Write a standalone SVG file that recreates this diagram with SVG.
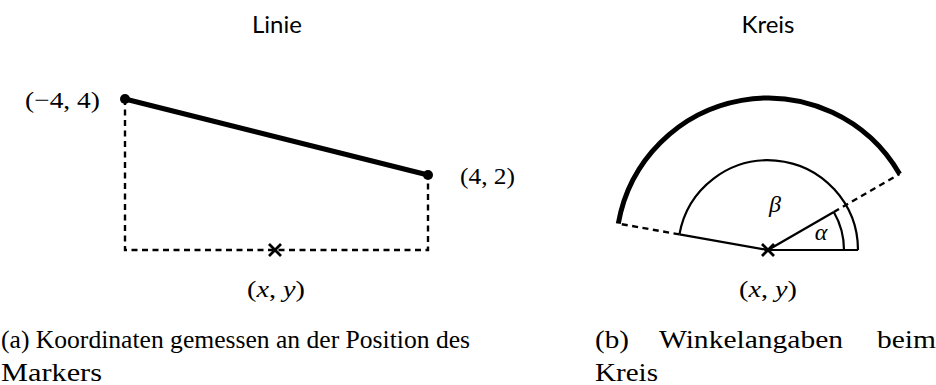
<svg xmlns="http://www.w3.org/2000/svg" width="936" height="385" viewBox="0 0 936 385">
<style>
.title{font-family:Lato,"Open Sans",sans-serif;font-size:24px;fill:#000}
.math{font-family:"Liberation Serif","DejaVu Serif",serif;font-size:24px;fill:#000}
.mi{font-family:"Liberation Serif","DejaVu Serif",serif;font-style:italic}
.cap{font-family:"Liberation Serif","DejaVu Serif",serif;font-size:25px;fill:#000}
.thick{stroke:#000;stroke-width:5;fill:none;stroke-linecap:butt}
.thin{stroke:#000;stroke-width:2.2;fill:none}
.dash{stroke:#000;stroke-width:2.4;fill:none;stroke-dasharray:6 4.5}
.cross{stroke:#000;stroke-width:2.8;fill:none}
</style>
<rect width="936" height="385" fill="#fff"/>
<g id="linie">
  <text class="title" x="277" y="33" text-anchor="middle">Linie</text>
  <g id="connectors-a">
    <path class="dash" d="M125,99 V250 H428 V175"/>
    <line class="thick" x1="125" y1="99" x2="428" y2="175"/>
  </g>
  <g id="pA"><circle cx="125" cy="99" r="5"/><text class="math" x="25" y="108" textLength="75" lengthAdjust="spacingAndGlyphs">(−4, 4)</text></g>
  <g id="pB"><circle cx="428" cy="175" r="5"/><text class="math" x="460" y="184" textLength="55" lengthAdjust="spacingAndGlyphs">(4, 2)</text></g>
  <g id="markerA"><path class="cross" d="M269,244 L281,256 M281,244 L269,256"/>
    <text class="math" x="247" y="297" textLength="58" lengthAdjust="spacingAndGlyphs">(<tspan class="mi">x</tspan>, <tspan class="mi">y</tspan>)</text></g>
  <text class="cap" x="1" y="348" textLength="469" lengthAdjust="spacingAndGlyphs">(a) Koordinaten gemessen an der Position des</text>
  <text class="cap" x="1" y="381" textLength="101" lengthAdjust="spacingAndGlyphs">Markers</text>
</g>
<g id="kreis">
  <text class="title" x="768" y="33" text-anchor="middle">Kreis</text>
  <g id="connectors-b">
    <path class="thick" d="M899.6,174 A152,152 0 0 0 618.3,223.6"/>
    <path class="thin" d="M858,250 A90,90 0 0 0 679.4,234.4"/>
    <path class="thin" d="M844,250 A76,76 0 0 0 833.8,212"/>
    <path class="thin" d="M858,250 H768 L833.8,212 M768,250 L679.4,234.4"/>
    <path class="dash" d="M833.8,212 L899.6,174 M679.4,234.4 L618.3,223.6"/>
  </g>
  <text class="math mi" x="775" y="212" text-anchor="middle" fill="#777">β</text>
  <text class="math mi" x="821" y="240" text-anchor="middle" fill="#555">α</text>
  <g id="markerB"><path class="cross" d="M762,244 L774,256 M774,244 L762,256"/>
    <text class="math" x="739" y="297" textLength="58" lengthAdjust="spacingAndGlyphs">(<tspan class="mi">x</tspan>, <tspan class="mi">y</tspan>)</text></g>
  <text class="cap" x="595" y="348" textLength="34" lengthAdjust="spacingAndGlyphs">(b)</text>
  <text class="cap" x="659" y="348" textLength="184" lengthAdjust="spacingAndGlyphs">Winkelangaben</text>
  <text class="cap" x="877" y="348" textLength="59" lengthAdjust="spacingAndGlyphs">beim</text>
  <text class="cap" x="595" y="381" textLength="63" lengthAdjust="spacingAndGlyphs">Kreis</text>
</g>
</svg>
